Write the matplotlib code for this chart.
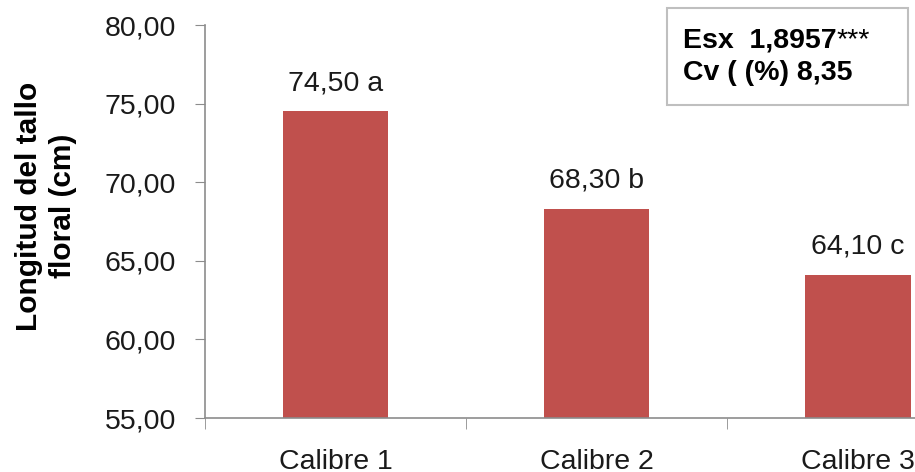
import numpy as np
import matplotlib
matplotlib.use("Agg")
import matplotlib.pyplot as plt
from matplotlib.patches import Rectangle

plt.rcParams['font.family'] = ['Liberation Sans', 'DejaVu Sans']

# datos
categorias = ["Calibre 1", "Calibre 2", "Calibre 3"]
longitud = [74.50, 68.30, 64.10]
letras = ["a", "b", "c"]
yticks = [55, 60, 65, 70, 75, 80]

color_barra = '#C0504D'
gris = '#8C8C8C'
fs = 20.5

fig = plt.figure(figsize=(9.15, 4.72), dpi=100)
# el eje sigue mas alla del borde derecho (grafico recortado)
ax = fig.add_axes([0.224, 0.1144, 0.856, 0.8326])

x = np.arange(len(categorias))
ax.bar(x, [v - 55 for v in longitud], bottom=55, width=0.405, color=color_barra, zorder=2)
ax.set_xlim(-0.5, 2.5)
ax.set_ylim(55, 80)

for i, v in enumerate(longitud):
    txt = f"{v:.2f}".replace(".", ",") + " " + letras[i]
    ax.annotate(txt, (x[i], v), xytext=(0, 11), textcoords='offset points',
                ha='center', va='bottom', fontsize=fs, color='#1a1a1a')

ax.set_yticks(yticks)
ax.set_yticklabels([f"{t:.2f}".replace(".", ",") for t in yticks], fontsize=fs, color='#1a1a1a')
ax.set_xticks(x)
ax.set_xticklabels(categorias, fontsize=fs, color='#1a1a1a')
ax.set_xticks([-0.5, 0.5, 1.5, 2.5], minor=True)
ax.tick_params(axis='x', which='major', length=0, pad=22)
ax.tick_params(axis='x', which='minor', length=8, color=gris)
ax.tick_params(axis='y', length=7, color=gris, pad=14)

for s in ['top', 'right']:
    ax.spines[s].set_visible(False)
for s in ['left', 'bottom']:
    ax.spines[s].set_color(gris)
    ax.spines[s].set_linewidth(1.2)

# titulo del eje y
fig.text(46 / 915, 1 - 206 / 472, "Longitud del tallo\nfloral (cm)", fontsize=21.5,
         fontweight='bold', rotation=90, ha='center', va='center', linespacing=1.3,
         multialignment='center')

# recuadro con estadisticos
fig.patches.append(Rectangle((667 / 915, 1 - 105 / 472), (908 - 667) / 915, (105 - 8) / 472,
                             transform=fig.transFigure, fill=False, edgecolor='#BFBFBF', lw=1.5))
t1 = fig.text(683 / 915, 1 - 40 / 472, "Esx  1,8957", fontsize=fs, fontweight='bold', va='center')
fig.canvas.draw()
bb = t1.get_window_extent()
fig.text(bb.x1 / 915, 1 - 40 / 472, "***", fontsize=fs, va='center')
fig.text(683 / 915, 1 - 73 / 472, "Cv ( (%) 8,35", fontsize=fs, fontweight='bold', va='center')

fig.savefig("out.png", dpi=100)
